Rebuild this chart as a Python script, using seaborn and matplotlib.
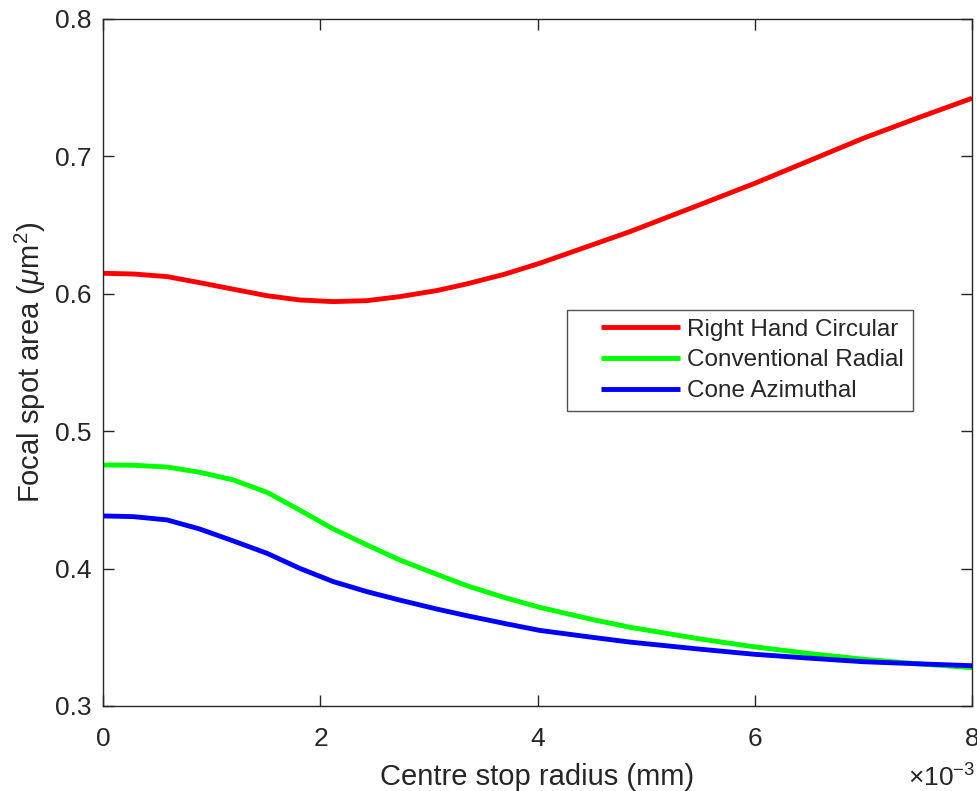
import numpy as np
import pandas as pd
import matplotlib
matplotlib.use("Agg")
import matplotlib.pyplot as plt
import seaborn as sns
from matplotlib.lines import Line2D
from matplotlib.legend_handler import HandlerLine2D
from matplotlib.ticker import ScalarFormatter

# centre stop radius in mm (axis shows x 10^-3)
radius_mm = [0.0, 0.28, 0.59, 0.89, 1.2, 1.51, 1.81, 2.12, 2.43, 2.73, 3.07,
             3.35, 3.7, 4.02, 4.5, 4.85, 5.5, 6.0, 6.5, 7.0, 7.5, 8.0]
right_hand_circular = [0.6149, 0.6144, 0.6125, 0.6081, 0.6033, 0.5986, 0.5955,
                       0.5943, 0.5950, 0.5979, 0.6023, 0.6072, 0.6143, 0.6222,
                       0.6355, 0.6452, 0.6650, 0.6804, 0.6968, 0.7132, 0.7280,
                       0.7423]
conventional_radial = [0.4754, 0.4752, 0.4739, 0.4701, 0.4645, 0.4555, 0.4426,
                       0.4288, 0.4172, 0.4063, 0.3959, 0.3875, 0.3788, 0.3718,
                       0.3630, 0.3573, 0.3487, 0.3430, 0.3382, 0.3340, 0.3307,
                       0.3279]
cone_azimuthal = [0.4383, 0.4378, 0.4354, 0.4288, 0.4201, 0.4111, 0.4002,
                  0.3905, 0.3832, 0.3771, 0.3706, 0.3657, 0.3600, 0.3550,
                  0.3500, 0.3465, 0.3413, 0.3376, 0.3348, 0.3322, 0.3307,
                  0.3293]

series_names = ["Right Hand Circular", "Conventional Radial", "Cone Azimuthal"]
series_colors = ["#ff0000", "#00ff00", "#0000ff"]

frames = []
for name, vals in zip(series_names,
                      [right_hand_circular, conventional_radial, cone_azimuthal]):
    frames.append(pd.DataFrame({
        "radius": np.array(radius_mm) * 1e-3,
        "area": vals,
        "series": name,
    }))
df = pd.concat(frames, ignore_index=True)


class ShortLine(HandlerLine2D):
    # matlab style legend: short line sitting right next to the text
    def get_xdata(self, legend, xdescent, ydescent, width, height, fontsize):
        xdata = np.array([-xdescent + 0.24 * width, -xdescent + width])
        return xdata, xdata


sns.set_style("ticks")
plt.rcParams["font.family"] = ["Liberation Sans", "DejaVu Sans"]
plt.rcParams["mathtext.fontset"] = "custom"
plt.rcParams["mathtext.rm"] = "Liberation Sans"
plt.rcParams["mathtext.it"] = "Liberation Sans:italic"

dark = "#262626"
lw = 3.5

fig = plt.figure(figsize=(9.78, 7.91), dpi=100)
ax = fig.add_axes([0.1053, 0.1075, 0.8886, 0.8685])

sns.lineplot(data=df, x="radius", y="area", hue="series",
             hue_order=series_names, palette=series_colors,
             linewidth=lw, ax=ax)
for ln in ax.get_lines():
    ln.set_solid_joinstyle("round")
    ln.set_solid_capstyle("butt")

ax.set_xlim(0, 0.008)
ax.set_ylim(0.3, 0.8)
ax.set_xticks([0, 0.002, 0.004, 0.006, 0.008])
ax.set_yticks([0.3, 0.4, 0.5, 0.6, 0.7, 0.8])
fmt = ScalarFormatter(useMathText=True)
fmt.set_powerlimits((-2, 2))
ax.xaxis.set_major_formatter(fmt)
# draw the exponent ourselves so it sits where matlab puts it
ax.xaxis.get_offset_text().set_visible(False)
ax.text(1.0035, -0.118, r"$\times10^{-3}$", transform=ax.transAxes,
        ha="right", va="baseline", fontsize=19, color=dark)

ax.set_xlabel("Centre stop radius (mm)", fontsize=21, color=dark, labelpad=9)
ax.set_ylabel(r"Focal spot area ($\mu$m$^2$)", fontsize=21, color=dark, labelpad=5)

for side in ["top", "right", "left", "bottom"]:
    ax.spines[side].set_visible(True)
    ax.spines[side].set_color(dark)
    ax.spines[side].set_linewidth(1.0)
ax.tick_params(direction="in", length=8, width=1.0, colors=dark,
               labelsize=19, top=True, right=True)
ax.tick_params(axis="x", pad=15)
ax.tick_params(axis="y", pad=8)

leg = ax.legend(loc="upper left", bbox_to_anchor=(0.534, 0.5764),
                borderaxespad=0, fontsize=17.5, frameon=True, fancybox=False,
                handlelength=4.3, borderpad=0.35, labelspacing=0.36,
                handletextpad=0.3, handler_map={Line2D: ShortLine()})
leg.get_frame().set_edgecolor(dark)
leg.get_frame().set_linewidth(1.0)
for line in leg.get_lines():
    line.set_linewidth(lw)

fig.savefig("out.png", dpi=100)
